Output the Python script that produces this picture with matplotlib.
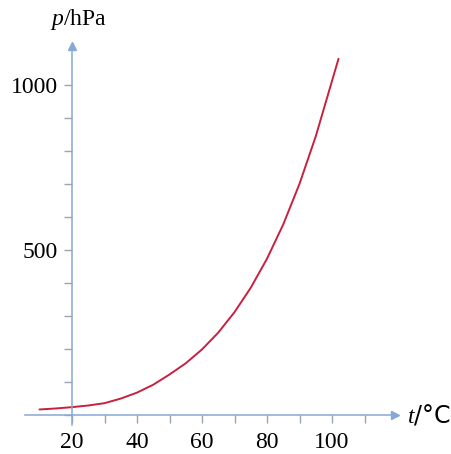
import numpy as np
import matplotlib.pyplot as plt

# vapour pressure of water, every 5 degrees
t_vals = [10, 15, 20, 25, 30, 35, 40, 45, 50, 55, 60, 65, 70, 75, 80, 85, 90, 95, 100, 102]
p_vals = [17, 20, 24, 29, 36, 50, 68, 92, 123, 157, 199, 250, 312, 386, 474, 578, 701, 845, 1013, 1080]

x_ticks = [20, 30, 40, 50, 60, 70, 80, 90, 100, 110]
x_labels = ["20", "", "40", "", "60", "", "80", "", "100", ""]
y_ticks = [0, 100, 200, 300, 400, 500, 600, 700, 800, 900, 1000]
y_labels = ["", "", "", "", "", "500", "", "", "", "", "1000"]

axis_col = "#86a8d6"
curve_col = "#c8203f"

plt.rcParams['font.family'] = ['Liberation Serif', 'DejaVu Serif']
plt.rcParams['mathtext.fontset'] = 'custom'
plt.rcParams['mathtext.it'] = 'Liberation Serif:italic'
plt.rcParams['mathtext.rm'] = 'Liberation Serif'

fig = plt.figure(figsize=(4.51, 4.54), dpi=100)
ax = fig.add_axes([0, 0, 1, 1])
ax.set_xlim(-2.15, 136.6)
ax.set_ylim(-118, 1258)

ax.plot(t_vals, p_vals, color=curve_col, lw=1.4, solid_capstyle='round')

for s in ['top', 'right']:
    ax.spines[s].set_visible(False)
ax.spines['left'].set_position(('data', 20))
ax.spines['bottom'].set_position(('data', 0))
ax.spines['left'].set_bounds(-30, 1112)
ax.spines['bottom'].set_bounds(5.5, 118)
for s in ['left', 'bottom']:
    ax.spines[s].set_color(axis_col)
    ax.spines[s].set_linewidth(1.1)

# arrow heads
ax.plot([20], [1118], marker='^', color=axis_col, ms=6, clip_on=False)
ax.plot([119.5], [0], marker='>', color=axis_col, ms=6, clip_on=False)

ax.set_xticks(x_ticks)
ax.set_xticklabels(x_labels, fontsize=17)
ax.set_yticks(y_ticks)
ax.set_yticklabels(y_labels, fontsize=17)
ax.tick_params(axis='x', direction='out', length=6, width=1, color='#9aa4b4', pad=6)
ax.tick_params(axis='y', direction='out', length=6, width=1, color='#9aa4b4', pad=4)

ax.text(123, 0, r"$t$/°C", fontsize=17, va='center', ha='left',
        family=['DejaVu Sans'])
ax.text(22, 1198, r"$p$/hPa", fontsize=17, va='center', ha='center')

fig.savefig("out.png", dpi=100)
